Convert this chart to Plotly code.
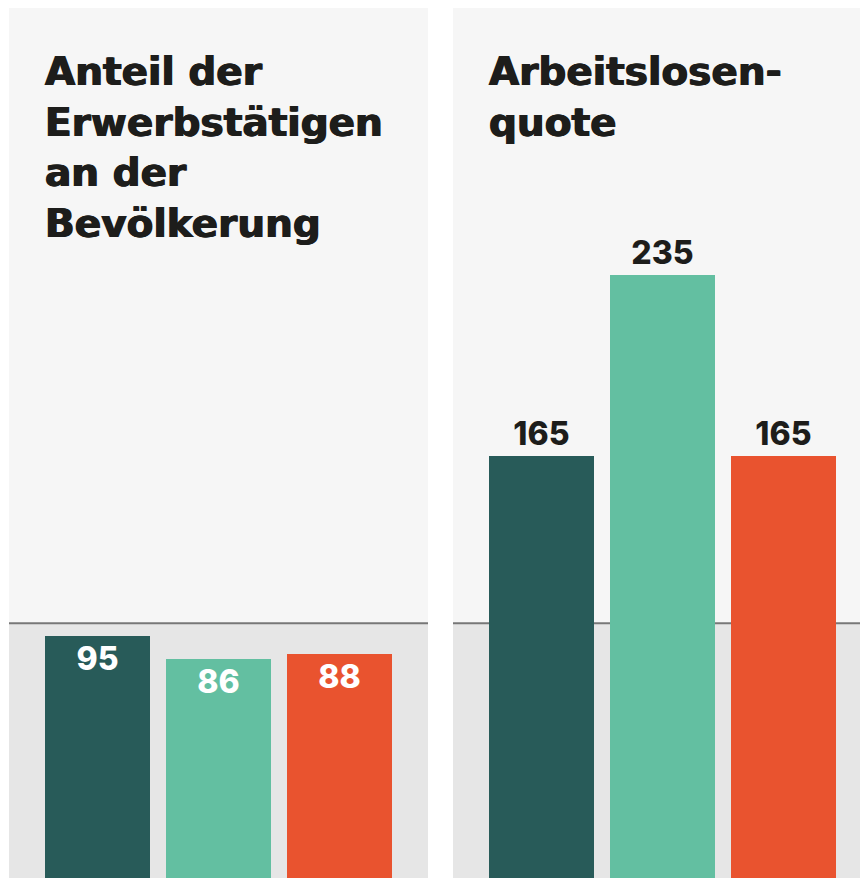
import plotly.graph_objects as go

# ---- data ----
categories = ["Gruppe A", "Gruppe B", "Gruppe C"]
employment_share = [95, 86, 88]
unemployment_rate = [165, 235, 165]
titles = ["Anteil der<br>Erwerbstätigen<br>an der<br>Bevölkerung", "Arbeitslosen-<br>quote"]
bar_colors = ["#285b59", "#63bfa1", "#e9532f"]
baseline = 100

# body margin removed by post_script, figure fills the window
W, H = 860, 878
ML, MT = 9, 8
plot_w = W - ML
dom_left = [0, (428 - ML) / plot_w]
dom_right = [(453 - ML) / plot_w, 1]
y_range = [1.16, 338.6]

INK = "#1d1d1b"
TITLE_FONT = dict(family="'DejaVu Sans', sans-serif", size=39, color=INK, weight=700,
                  shadow=f"0.7px 0 0 {INK}, -0.7px 0 0 {INK}")
LABEL_FONT_FAMILY = "Inter, 'Open Sans', sans-serif"

fig = go.Figure()
fig.add_trace(go.Bar(
    x=categories, y=employment_share, marker=dict(color=bar_colors, line=dict(width=0)),
    width=0.868, text=employment_share, textposition="inside", insidetextanchor="end",
    constraintext="none",
    textfont=dict(family=LABEL_FONT_FAMILY, size=32, color="white", weight=800),
    xaxis="x", yaxis="y", hoverinfo="skip", showlegend=False,
))
fig.add_trace(go.Bar(
    x=categories, y=unemployment_rate, marker=dict(color=bar_colors, line=dict(width=0)),
    width=0.868, text=unemployment_rate, textposition="outside", cliponaxis=False,
    constraintext="none",
    textfont=dict(family=LABEL_FONT_FAMILY, size=32, color=INK, weight=800),
    xaxis="x2", yaxis="y2", hoverinfo="skip", showlegend=False,
))

axis_common = dict(showgrid=False, zeroline=False, showticklabels=False, ticks="", showline=False, fixedrange=True)
shapes = []
for xa, ya in (("x", "y"), ("x2", "y2")):
    shapes.append(dict(type="rect", xref=f"{xa} domain", yref=ya, x0=0, x1=1,
                       y0=y_range[0], y1=baseline, fillcolor="#e6e6e6",
                       line=dict(width=0), layer="below"))
    shapes.append(dict(type="line", xref=f"{xa} domain", yref=ya, x0=0, x1=1,
                       y0=baseline, y1=baseline, line=dict(color="#777777", width=2),
                       layer="below"))

def px_x(X):  # page pixel -> paper fraction
    return (X - ML) / plot_w

def px_y(Y):
    return (H - Y) / (H - MT)

annotations = [
    dict(text=titles[0], xref="paper", yref="paper", x=px_x(43), y=px_y(47),
         xanchor="left", yanchor="top", align="left", showarrow=False, font=TITLE_FONT),
    dict(text=titles[1], xref="paper", yref="paper", x=px_x(487), y=px_y(47),
         xanchor="left", yanchor="top", align="left", showarrow=False, font=TITLE_FONT),
]

fig.update_layout(
    width=W, height=H,
    margin=dict(l=ML, r=0, t=MT, b=0, pad=0),
    paper_bgcolor="white", plot_bgcolor="#f6f6f6",
    xaxis=dict(domain=dom_left, range=[-0.731, 2.731], type="category", **axis_common),
    xaxis2=dict(domain=dom_right, range=[-0.731, 2.633], type="category", **axis_common),
    yaxis=dict(range=y_range, **axis_common),
    yaxis2=dict(range=y_range, anchor="x2", **axis_common),
    shapes=shapes, annotations=annotations, bargap=0, hovermode=False,
)
fig.write_html(
    "out.html",
    config={"displayModeBar": False, "staticPlot": True},
    post_script="document.body.style.margin='0';document.body.style.overflow='hidden';",
)
